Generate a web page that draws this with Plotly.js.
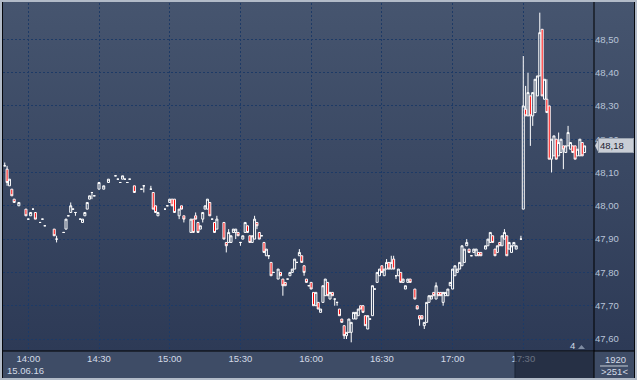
<!DOCTYPE html>
<html>
<head>
<meta charset="utf-8">
<script src="https://cdn.plot.ly/plotly-3.0.1.min.js"></script>
<style>
  html, body { margin:0; padding:0; background:#3e4c66; }
  #wrap { position:relative; width:637px; height:380px; overflow:hidden;
    background: linear-gradient(to bottom, #46556f 0px, #2d3a56 351px, #3e4c66 351px, #3e4c66 380px); }
  #chart { position:absolute; left:0; top:0; width:637px; height:380px; }
  #frame { position:absolute; left:0; top:0; width:637px; height:380px; box-sizing:border-box;
    border:2px solid #b2bbc8; pointer-events:none; }
  #inner { position:absolute; left:0; top:0; right:0; bottom:0; border-left:1px solid #05070c; border-right:1px solid #05070c; }
</style>
</head>
<body>
<div id="wrap"><div id="chart"></div><div id="frame"><div id="inner"></div></div></div>
<script>
// ---- data (15.06.16, 1-minute candles) ----
const day = '2016-06-15';
const times = [
'13:50','13:51','13:52','13:53','13:54','13:56','13:59','14:00','14:01','14:02',
'14:03','14:05','14:06','14:07','14:11','14:12','14:15','14:16','14:17','14:18',
'14:19','14:20','14:22','14:23','14:24','14:25','14:26','14:27','14:28','14:30',
'14:32','14:34','14:37','14:38','14:39','14:40','14:41','14:42','14:43','14:45',
'14:48','14:49','14:52','14:53','14:54','14:55','14:58','14:59','15:00','15:01',
'15:02','15:04','15:05','15:06','15:09','15:10','15:11','15:12','15:13','15:14',
'15:15','15:16','15:17','15:18','15:19','15:20','15:23','15:24','15:25','15:26',
'15:27','15:28','15:29','15:30','15:31','15:32','15:33','15:34','15:35','15:36',
'15:37','15:38','15:39','15:40','15:41','15:42','15:43','15:44','15:46','15:47',
'15:48','15:49','15:50','15:51','15:52','15:53','15:54','15:55','15:56','15:57',
'15:58','15:59','16:00','16:01','16:02','16:03','16:04','16:05','16:06','16:07',
'16:08','16:09','16:10','16:11','16:12','16:13','16:14','16:15','16:16','16:17',
'16:18','16:19','16:20','16:21','16:22','16:23','16:24','16:25','16:26','16:27',
'16:28','16:29','16:30','16:31','16:32','16:33','16:34','16:35','16:36','16:37',
'16:38','16:39','16:40','16:41','16:42','16:44','16:45','16:46','16:47','16:48',
'16:49','16:50','16:51','16:52','16:53','16:54','16:55','16:56','16:57','16:58',
'16:59','17:00','17:01','17:02','17:03','17:04','17:05','17:06','17:07','17:08',
'17:09','17:10','17:11','17:12','17:14','17:15','17:16','17:17','17:18','17:19',
'17:20','17:21','17:22','17:23','17:24','17:25','17:26','17:27','17:29','17:30',
'17:31','17:32','17:33','17:34','17:35','17:36','17:37','17:38','17:39','17:40',
'17:41','17:42','17:43','17:44','17:45','17:46','17:47','17:48','17:49','17:50',
'17:51','17:52','17:53','17:54','17:55','17:56'
];
const openP = [
48.12,48.11,48.06,48.05,48.02,48.00,47.99,47.96,47.97,47.99,
47.98,47.95,47.96,47.94,47.93,47.90,47.92,47.93,47.97,47.98,
47.99,47.98,47.96,47.95,47.97,47.99,48.02,48.04,48.03,48.05,
48.05,48.07,48.09,48.08,48.07,48.08,48.08,48.07,48.08,48.06,
48.05,48.06,48.05,48.04,48.00,47.97,47.99,48.00,48.01,48.02,
48.02,47.97,48.00,47.97,47.92,47.96,47.97,47.95,47.93,47.96,
47.99,47.99,48.01,47.96,47.95,47.93,47.95,47.89,47.89,47.89,
47.92,47.92,47.92,47.89,47.90,47.92,47.94,47.91,47.89,47.90,
47.95,47.92,47.91,47.89,47.85,47.85,47.83,47.80,47.78,47.80,
47.78,47.77,47.78,47.79,47.80,47.81,47.83,47.85,47.85,47.82,
47.78,47.76,47.77,47.74,47.70,47.71,47.68,47.71,47.73,47.77,
47.72,47.74,47.72,47.71,47.69,47.66,47.64,47.61,47.62,47.62,
47.66,47.66,47.67,47.70,47.70,47.67,47.63,47.66,47.67,47.75,
47.77,47.79,47.82,47.79,47.81,47.83,47.81,47.84,47.79,47.79,
47.80,47.77,47.75,47.77,47.78,47.75,47.70,47.67,47.67,47.64,
47.65,47.71,47.72,47.74,47.72,47.74,47.74,47.71,47.73,47.73,
47.76,47.75,47.79,47.80,47.81,47.82,47.83,47.88,47.87,47.85,
47.86,47.85,47.86,47.86,47.87,47.88,47.89,47.91,47.87,47.86,
47.89,47.88,47.90,47.91,47.87,47.86,47.88,47.87,47.90,47.99,
48.29,48.27,48.33,48.27,48.28,48.33,48.39,48.53,48.32,48.32,
48.30,48.14,48.15,48.20,48.15,48.16,48.18,48.16,48.18,48.17,
48.18,48.18,48.15,48.15,48.19,48.16
];
const highP = [
48.13,48.12,48.08,48.05,48.02,48.01,47.99,47.96,47.98,47.99,
47.98,47.95,47.96,47.94,47.93,47.91,47.92,47.96,47.97,48.01,
47.99,47.98,47.96,47.96,47.98,48.01,48.03,48.04,48.03,48.07,
48.06,48.08,48.09,48.08,48.07,48.09,48.08,48.07,48.08,48.06,
48.05,48.06,48.06,48.04,48.00,47.98,47.99,48.00,48.02,48.02,
48.02,47.99,48.00,47.97,47.96,47.96,47.98,47.95,47.94,47.98,
48.00,48.02,48.01,47.96,47.95,47.97,47.95,47.89,47.93,47.91,
47.93,47.93,47.92,47.89,47.91,47.95,47.94,47.91,47.91,47.97,
47.95,47.92,47.91,47.89,47.87,47.85,47.83,47.80,47.81,47.80,
47.78,47.77,47.78,47.80,47.81,47.84,47.83,47.87,47.85,47.82,
47.78,47.76,47.77,47.74,47.74,47.71,47.69,47.76,47.78,47.77,
47.74,47.74,47.72,47.71,47.69,47.66,47.64,47.62,47.66,47.65,
47.68,47.68,47.69,47.70,47.70,47.67,47.67,47.66,47.76,47.75,
47.80,47.81,47.82,47.81,47.84,47.83,47.85,47.85,47.79,47.81,
47.80,47.78,47.76,47.78,47.78,47.75,47.70,47.67,47.67,47.65,
47.71,47.73,47.73,47.74,47.77,47.74,47.74,47.74,47.74,47.75,
47.77,47.81,47.82,47.81,47.83,47.88,47.87,47.90,47.87,47.85,
47.87,47.87,47.86,47.86,47.88,47.90,47.92,47.91,47.87,47.88,
47.89,47.91,47.93,47.91,47.89,47.88,47.89,47.88,47.91,48.45,
48.36,48.40,48.33,48.34,48.38,48.39,48.58,48.53,48.38,48.38,
48.30,48.20,48.21,48.20,48.22,48.20,48.18,48.18,48.24,48.19,
48.18,48.18,48.17,48.20,48.19,48.18
];
const lowP = [
48.12,48.06,48.06,48.03,48.01,48.00,47.97,47.96,47.97,47.99,
47.96,47.95,47.96,47.94,47.91,47.89,47.92,47.93,47.97,47.98,
47.99,47.97,47.96,47.95,47.97,47.99,48.02,48.02,48.03,48.05,
48.05,48.07,48.09,48.08,48.07,48.08,48.08,48.07,48.08,48.04,
48.05,48.04,48.05,47.99,47.98,47.97,47.99,48.00,48.01,48.00,
47.98,47.96,47.99,47.95,47.92,47.92,47.96,47.92,47.93,47.95,
47.99,47.99,47.97,47.96,47.92,47.93,47.90,47.86,47.89,47.89,
47.92,47.90,47.91,47.88,47.90,47.92,47.92,47.89,47.89,47.90,
47.93,47.90,47.91,47.86,47.85,47.84,47.79,47.80,47.78,47.79,
47.73,47.76,47.78,47.79,47.80,47.81,47.83,47.85,47.83,47.79,
47.77,47.76,47.75,47.70,47.70,47.69,47.68,47.71,47.73,47.73,
47.72,47.73,47.70,47.70,47.67,47.65,47.60,47.60,47.62,47.59,
47.66,47.66,47.67,47.69,47.68,47.64,47.63,47.66,47.67,47.75,
47.77,47.79,47.80,47.79,47.81,47.81,47.81,47.81,47.78,47.79,
47.77,47.77,47.75,47.77,47.77,47.72,47.69,47.64,47.66,47.63,
47.65,47.71,47.72,47.73,47.72,47.73,47.73,47.70,47.73,47.73,
47.76,47.75,47.79,47.80,47.81,47.82,47.83,47.88,47.86,47.85,
47.86,47.85,47.85,47.85,47.87,47.88,47.89,47.89,47.85,47.86,
47.88,47.88,47.90,47.85,47.87,47.86,47.88,47.87,47.90,47.99,
48.27,48.27,48.18,48.24,48.28,48.33,48.39,48.33,48.32,48.28,
48.14,48.10,48.15,48.14,48.15,48.16,48.11,48.16,48.18,48.17,
48.16,48.14,48.15,48.15,48.15,48.16
];
const closeP = [
48.12,48.07,48.08,48.03,48.01,48.01,47.97,47.96,47.98,47.99,
47.96,47.95,47.96,47.94,47.91,47.90,47.92,47.96,47.97,48.00,
47.99,47.98,47.96,47.96,47.98,48.01,48.03,48.04,48.03,48.07,
48.06,48.08,48.09,48.08,48.07,48.09,48.08,48.07,48.08,48.04,
48.05,48.06,48.05,47.99,47.98,47.98,47.99,48.00,48.02,48.00,
47.98,47.99,47.99,47.96,47.96,47.92,47.96,47.92,47.94,47.98,
48.00,48.02,47.97,47.96,47.92,47.96,47.90,47.88,47.92,47.91,
47.93,47.93,47.91,47.89,47.91,47.95,47.92,47.89,47.91,47.96,
47.94,47.90,47.91,47.86,47.87,47.85,47.79,47.80,47.81,47.79,
47.76,47.76,47.78,47.80,47.81,47.84,47.83,47.86,47.83,47.80,
47.77,47.76,47.75,47.70,47.74,47.69,47.69,47.76,47.78,47.73,
47.74,47.73,47.72,47.71,47.67,47.65,47.61,47.62,47.66,47.65,
47.68,47.68,47.69,47.69,47.68,47.64,47.67,47.66,47.76,47.75,
47.80,47.81,47.80,47.81,47.83,47.81,47.83,47.81,47.79,47.81,
47.77,47.78,47.76,47.78,47.77,47.72,47.69,47.66,47.66,47.65,
47.71,47.73,47.73,47.73,47.76,47.73,47.73,47.74,47.74,47.75,
47.77,47.81,47.82,47.81,47.83,47.88,47.87,47.89,47.86,47.85,
47.87,47.87,47.85,47.85,47.88,47.90,47.92,47.89,47.85,47.88,
47.88,47.91,47.92,47.85,47.89,47.88,47.89,47.88,47.90,48.30,
48.27,48.34,48.27,48.34,48.38,48.39,48.52,48.33,48.38,48.28,
48.14,48.20,48.21,48.14,48.19,48.20,48.17,48.18,48.22,48.19,
48.16,48.14,48.17,48.20,48.15,48.18
];
// axis ticks
const xTickTimes = ['14:00','14:30','15:00','15:30','16:00','16:30','17:00','17:30'];
const yTickVals = [47.6, 47.7, 47.8, 47.9, 48.0, 48.1, 48.2, 48.3, 48.4, 48.5];
// labels
const lastPrice = 48.18;
const lastLabel = '48,18';
const dateLabel = '15.06.16';
const barsLabel = '1920';
const countLabel = '>251<';
const markerLabel = '4';

// ---- chart ----
const xs = times.map(t => day + ' ' + t);
const gridC = '#1d3a66';
const trace = {
  type: 'candlestick', x: xs, open: openP, high: highP, low: lowP, close: closeP,
  increasing: { line: { color: '#ffffff', width: 1 }, fillcolor: 'rgba(0,0,0,0)' },
  decreasing: { line: { color: '#ffffff', width: 1 }, fillcolor: '#ff0000' },
  whiskerwidth: 0, hoverinfo: 'skip', showlegend: false
};
const layout = {
  width: 637, height: 380,
  margin: { l: 3, r: 43, t: 3, b: 29, pad: 0 },
  paper_bgcolor: 'rgba(0,0,0,0)', plot_bgcolor: 'rgba(0,0,0,0)',
  separators: ',.',
  showlegend: false,
  boxgap: 0.15, boxgroupgap: 0,
  font: { family: '"Liberation Sans", Arial, sans-serif', size: 9.5, color: '#d3dae6' },
  xaxis: {
    type: 'date', range: [day + ' 13:49:16', day + ' 18:00:00'],
    tickmode: 'array', tickvals: xTickTimes.map(t => day + ' ' + t), tickformat: '%H:%M',
    showgrid: true, gridcolor: gridC, gridwidth: 1, griddash: '2px,2px',
    zeroline: false, showline: false, ticks: '',
    rangeslider: { visible: false }, fixedrange: true,
    tickfont: { color: '#d3dae6', size: 9.5 }
  },
  yaxis: {
    side: 'right', range: [47.564, 48.609], tickmode: 'array', tickvals: yTickVals, tickformat: '.2f',
    showgrid: true, gridcolor: gridC, gridwidth: 1, griddash: '2px,2px',
    zeroline: false, showline: false, ticks: '', fixedrange: true,
    tickfont: { color: '#b8c4d8', size: 9.5 }
  },
  shapes: [
    // scrollbar thumb in bottom panel
    { type: 'rect', xref: 'paper', yref: 'paper', x0: 0.8663, x1: 1.0, y0: -0.0029, y1: -0.0776,
      fillcolor: 'rgba(18,26,42,0.55)', line: { width: 0 }, layer: 'above' },
    { type: 'line', xref: 'paper', yref: 'paper', x0: 0.8663, x1: 0.8663, y0: -0.0029, y1: -0.0776,
      line: { color: '#1b2436', width: 1 }, layer: 'above' },
    // axis frame lines
    { type: 'line', xref: 'paper', yref: 'paper', x0: -0.0017, x1: 1.0677, y0: 0, y1: 0,
      line: { color: '#000000', width: 1 }, layer: 'above' },
    { type: 'line', xref: 'paper', yref: 'paper', x0: 1, x1: 1, y0: -0.0776, y1: 1.003,
      line: { color: '#000000', width: 1 }, layer: 'above' },
    // separator in bottom-right box
    { type: 'line', xref: 'paper', yref: 'paper', x0: 1.0102, x1: 1.0575, y0: -0.0431, y1: -0.0431,
      line: { color: '#c5ccd6', width: 1 }, layer: 'above' },
    // small marker triangle
    { type: 'path', xref: 'paper', yref: 'paper',
      path: 'M 0.9729,0.0058 L 0.9789,0.0172 L 0.9848,0.0058 Z',
      fillcolor: '#7f8ca2', line: { width: 0 }, layer: 'above' },
    // last price arrow
    { type: 'path', xref: 'paper', yref: 'y',
      path: 'M 1.0017,' + lastPrice + ' L 1.0075,' + (lastPrice + 0.02) + ' L 1.0075,' + (lastPrice - 0.02) + ' Z',
      fillcolor: '#c9ced6', line: { width: 0 }, layer: 'above' }
  ],
  annotations: [
    { xref: 'paper', yref: 'y', x: 1, xshift: 4, y: lastPrice, xanchor: 'left', yanchor: 'middle',
      text: lastLabel, showarrow: false, bgcolor: '#c9ced6', bordercolor: '#9aa3b0', borderwidth: 1,
      borderpad: 1, width: 32, align: 'left', font: { color: '#1b2030', size: 9.5 } },
    { xref: 'paper', yref: 'paper', x: 0.0389, y: -0.056, xanchor: 'center', yanchor: 'middle',
      text: dateLabel, showarrow: false, font: { color: '#d3dae6', size: 9.5 } },
    { xref: 'paper', yref: 'paper', x: 1.0364, y: -0.023, xanchor: 'center', yanchor: 'middle',
      text: barsLabel, showarrow: false, font: { color: '#d3dae6', size: 9.5 } },
    { xref: 'paper', yref: 'paper', x: 1.0355, y: -0.0589, xanchor: 'center', yanchor: 'middle',
      text: countLabel, showarrow: false, font: { color: '#d3dae6', size: 9.5 } },
    { xref: 'paper', yref: 'paper', x: 0.9628, y: 0.0144, xanchor: 'center', yanchor: 'middle',
      text: markerLabel, showarrow: false, font: { color: '#d3dae6', size: 9.5 } }
  ]
};
Plotly.newPlot('chart', [trace], layout, { staticPlot: true, displayModeBar: false });
</script>
</body>
</html>
